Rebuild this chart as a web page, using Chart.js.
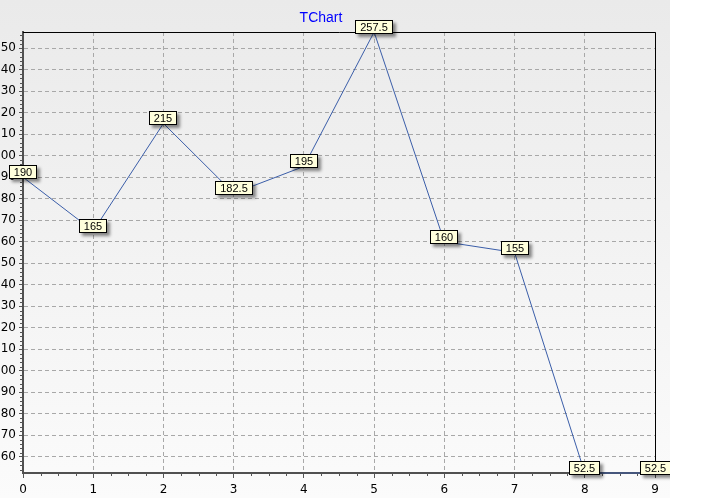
<!DOCTYPE html>
<html>
<head>
<meta charset="utf-8">
<script src="https://cdn.jsdelivr.net/npm/chart.js@4/dist/chart.umd.min.js"></script>
<style>
  body { margin: 0; background: #ffffff; }
  #panel { width: 670px; height: 498px; background: linear-gradient(#eaeaea, #fbfbfb); }
</style>
</head>
<body>
<div id="panel"><canvas id="myChart" width="670" height="498"></canvas></div>
<script>
const xLabels = ['0', '1', '2', '3', '4', '5', '6', '7', '8', '9'];
const values = [190, 165, 215, 182.5, 195, 257.5, 160, 155, 52.5, 52.5];
const yTickValues = [60, 70, 80, 90, 100, 110, 120, 130, 140, 150, 160, 170, 180, 190, 200, 210, 220, 230, 240, 250];
const yMin = 52.5;
const yMax = 257.5;
const chartTitle = 'TChart';

// title, top/right frame, minor ticks and the yellow marks
const decor = {
    id: 'decor',
    beforeDraw(chart) {
        const ctx = chart.ctx;
        ctx.save();
        ctx.font = '14px "Liberation Sans"';
        ctx.fillStyle = '#0000ff';
        ctx.textAlign = 'center';
        ctx.textBaseline = 'middle';
        ctx.fillText(chartTitle, 321, 18);
        ctx.restore();
    },
    beforeDatasetsDraw(chart) {
        const ctx = chart.ctx;
        const a = chart.chartArea;
        const xs = chart.scales.x;
        const ys = chart.scales.y;
        ctx.save();
        ctx.strokeStyle = '#000000';
        ctx.lineWidth = 1;
        ctx.beginPath();
        ctx.moveTo(a.left, a.top + 0.5);
        ctx.lineTo(a.right + 0.5, a.top + 0.5);
        ctx.lineTo(a.right + 0.5, a.bottom);
        ctx.stroke();
        // minor ticks
        ctx.strokeStyle = '#555555';
        ctx.beginPath();
        for (let i = 0; i < xLabels.length - 1; i++) {
            for (let k = 1; k < 4; k++) {
                const px = Math.round(xs.getPixelForValue(i + k / 4)) + 0.5;
                ctx.moveTo(px, a.bottom);
                ctx.lineTo(px, a.bottom + 3);
            }
        }
        for (let v = 54; v < yMax; v += 2) {
            if (v % 10 === 0) continue;
            const py = Math.round(ys.getPixelForValue(v)) + 0.5;
            ctx.moveTo(a.left - 3, py);
            ctx.lineTo(a.left, py);
        }
        ctx.stroke();
        ctx.restore();
    },
    afterDatasetsDraw(chart) {
        const ctx = chart.ctx;
        const pts = chart.getDatasetMeta(0).data;
        ctx.save();
        ctx.font = '11px "Liberation Sans"';
        ctx.textAlign = 'center';
        ctx.textBaseline = 'middle';
        pts.forEach((p, i) => {
            const txt = String(values[i]);
            const w = Math.round(ctx.measureText(txt).width) + 10;
            const h = 14;
            const x0 = Math.round(p.x - w / 2);
            const y0 = Math.round(p.y) - 12;
            ctx.save();
            ctx.shadowColor = 'rgba(0,0,0,0.45)';
            ctx.shadowOffsetX = 3;
            ctx.shadowOffsetY = 3;
            ctx.shadowBlur = 3;
            ctx.fillStyle = '#ffffdc';
            ctx.fillRect(x0, y0, w, h);
            ctx.restore();
            ctx.strokeStyle = '#000000';
            ctx.lineWidth = 1;
            ctx.strokeRect(x0 + 0.5, y0 + 0.5, w - 1, h - 1);
            ctx.fillStyle = '#000000';
            ctx.fillText(txt, x0 + w / 2, y0 + h / 2 + 0.5);
        });
        ctx.restore();
    }
};

var ctx = document.getElementById('myChart').getContext('2d');
var myChart = new Chart(ctx, {
    type: 'line',
    data: {
        labels: xLabels,
        datasets: [{
            data: values,
            borderColor: '#3a5da8',
            borderWidth: 1,
            pointRadius: 0,
            tension: 0,
            clip: false
        }]
    },
    options: {
        responsive: false,
        animation: false,
        devicePixelRatio: 1,
        layout: { padding: { top: 32, right: 15, left: 0, bottom: 0 } },
        plugins: {
            legend: { display: false },
            tooltip: { enabled: false }
        },
        scales: {
            x: {
                offset: false,
                afterFit(s) { s.height = 25; },
                grid: {
                    color: '#a8a8a8',
                    tickColor: '#555555',
                    tickLength: 5,
                    lineWidth: 1
                },
                border: { display: true, color: '#505050', width: 2, dash: [4, 3] },
                ticks: {
                    color: '#000000',
                    padding: 5,
                    maxRotation: 0,
                    font: { family: 'DejaVu Sans', size: 12 }
                }
            },
            y: {
                min: yMin,
                max: yMax,
                afterFit(s) { s.width = 23; },
                afterBuildTicks(s) { s.ticks = yTickValues.map(v => ({ value: v })); },
                grid: {
                    color: '#a8a8a8',
                    tickColor: '#555555',
                    tickLength: 4,
                    lineWidth: 1
                },
                border: { display: true, color: '#505050', width: 2, dash: [4, 3] },
                ticks: {
                    color: '#000000',
                    padding: 3,
                    font: { family: 'DejaVu Sans', size: 12 }
                }
            }
        }
    },
    plugins: [decor]
});
</script>
</body>
</html>
